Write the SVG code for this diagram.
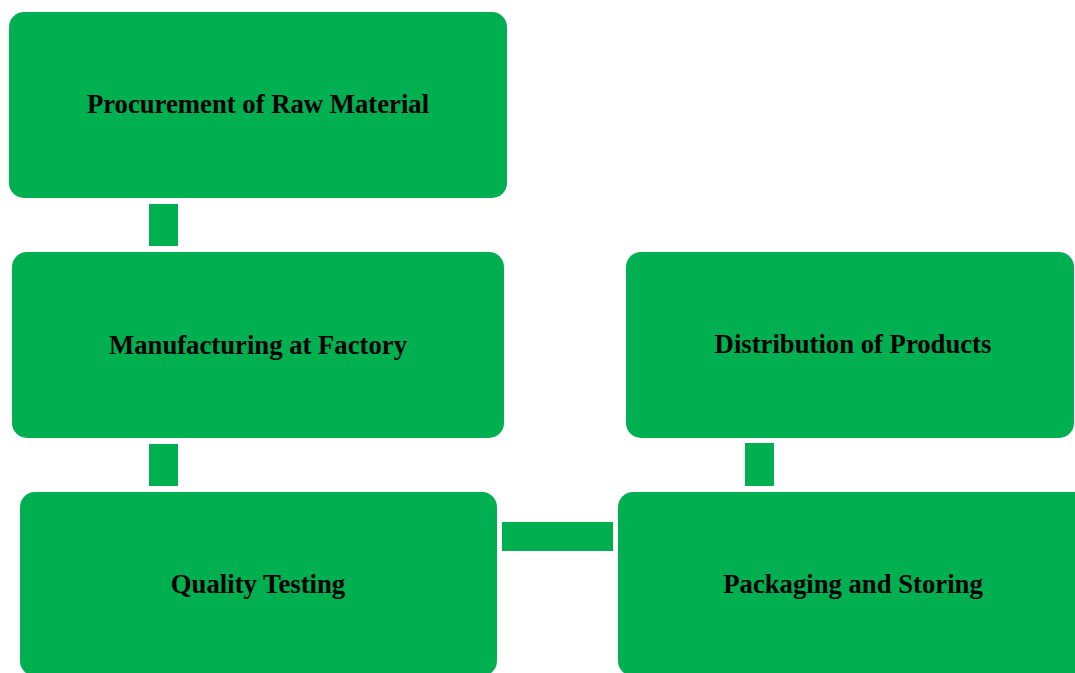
<svg xmlns="http://www.w3.org/2000/svg" width="1075" height="673" viewBox="0 0 1075 673">
<style>
.box{fill:#00AF50;}
.conn{fill:#00AF50;}
.lbl{font-family:"Liberation Serif","Times New Roman",serif;font-weight:bold;font-size:26.7px;fill:#000;text-anchor:middle;dominant-baseline:central;}
</style>
<rect width="1075" height="673" fill="#fff"/>
<g id="connectors">
<rect class="conn" x="149" y="204" width="29" height="42"/>
<rect class="conn" x="149" y="444" width="29" height="42"/>
<rect class="conn" x="502" y="522" width="111" height="29"/>
<rect class="conn" x="745" y="443" width="29" height="43"/>
</g>
<g id="procurement">
<rect class="box" x="9" y="12" width="498" height="186" rx="15"/>
<text class="lbl" x="258" y="104">Procurement of Raw Material</text>
</g>
<g id="manufacturing">
<rect class="box" x="12" y="252" width="492" height="186" rx="15"/>
<text class="lbl" x="258" y="345">Manufacturing at Factory</text>
</g>
<g id="quality">
<rect class="box" x="20" y="492" width="477" height="184" rx="15"/>
<text class="lbl" x="258" y="584">Quality Testing</text>
</g>
<g id="packaging">
<rect class="box" x="618" y="492" width="470" height="184" rx="15"/>
<text class="lbl" x="853" y="584">Packaging and Storing</text>
</g>
<g id="distribution">
<rect class="box" x="626" y="252" width="448" height="186" rx="15"/>
<text class="lbl" x="853" y="344">Distribution of Products</text>
</g>
</svg>
